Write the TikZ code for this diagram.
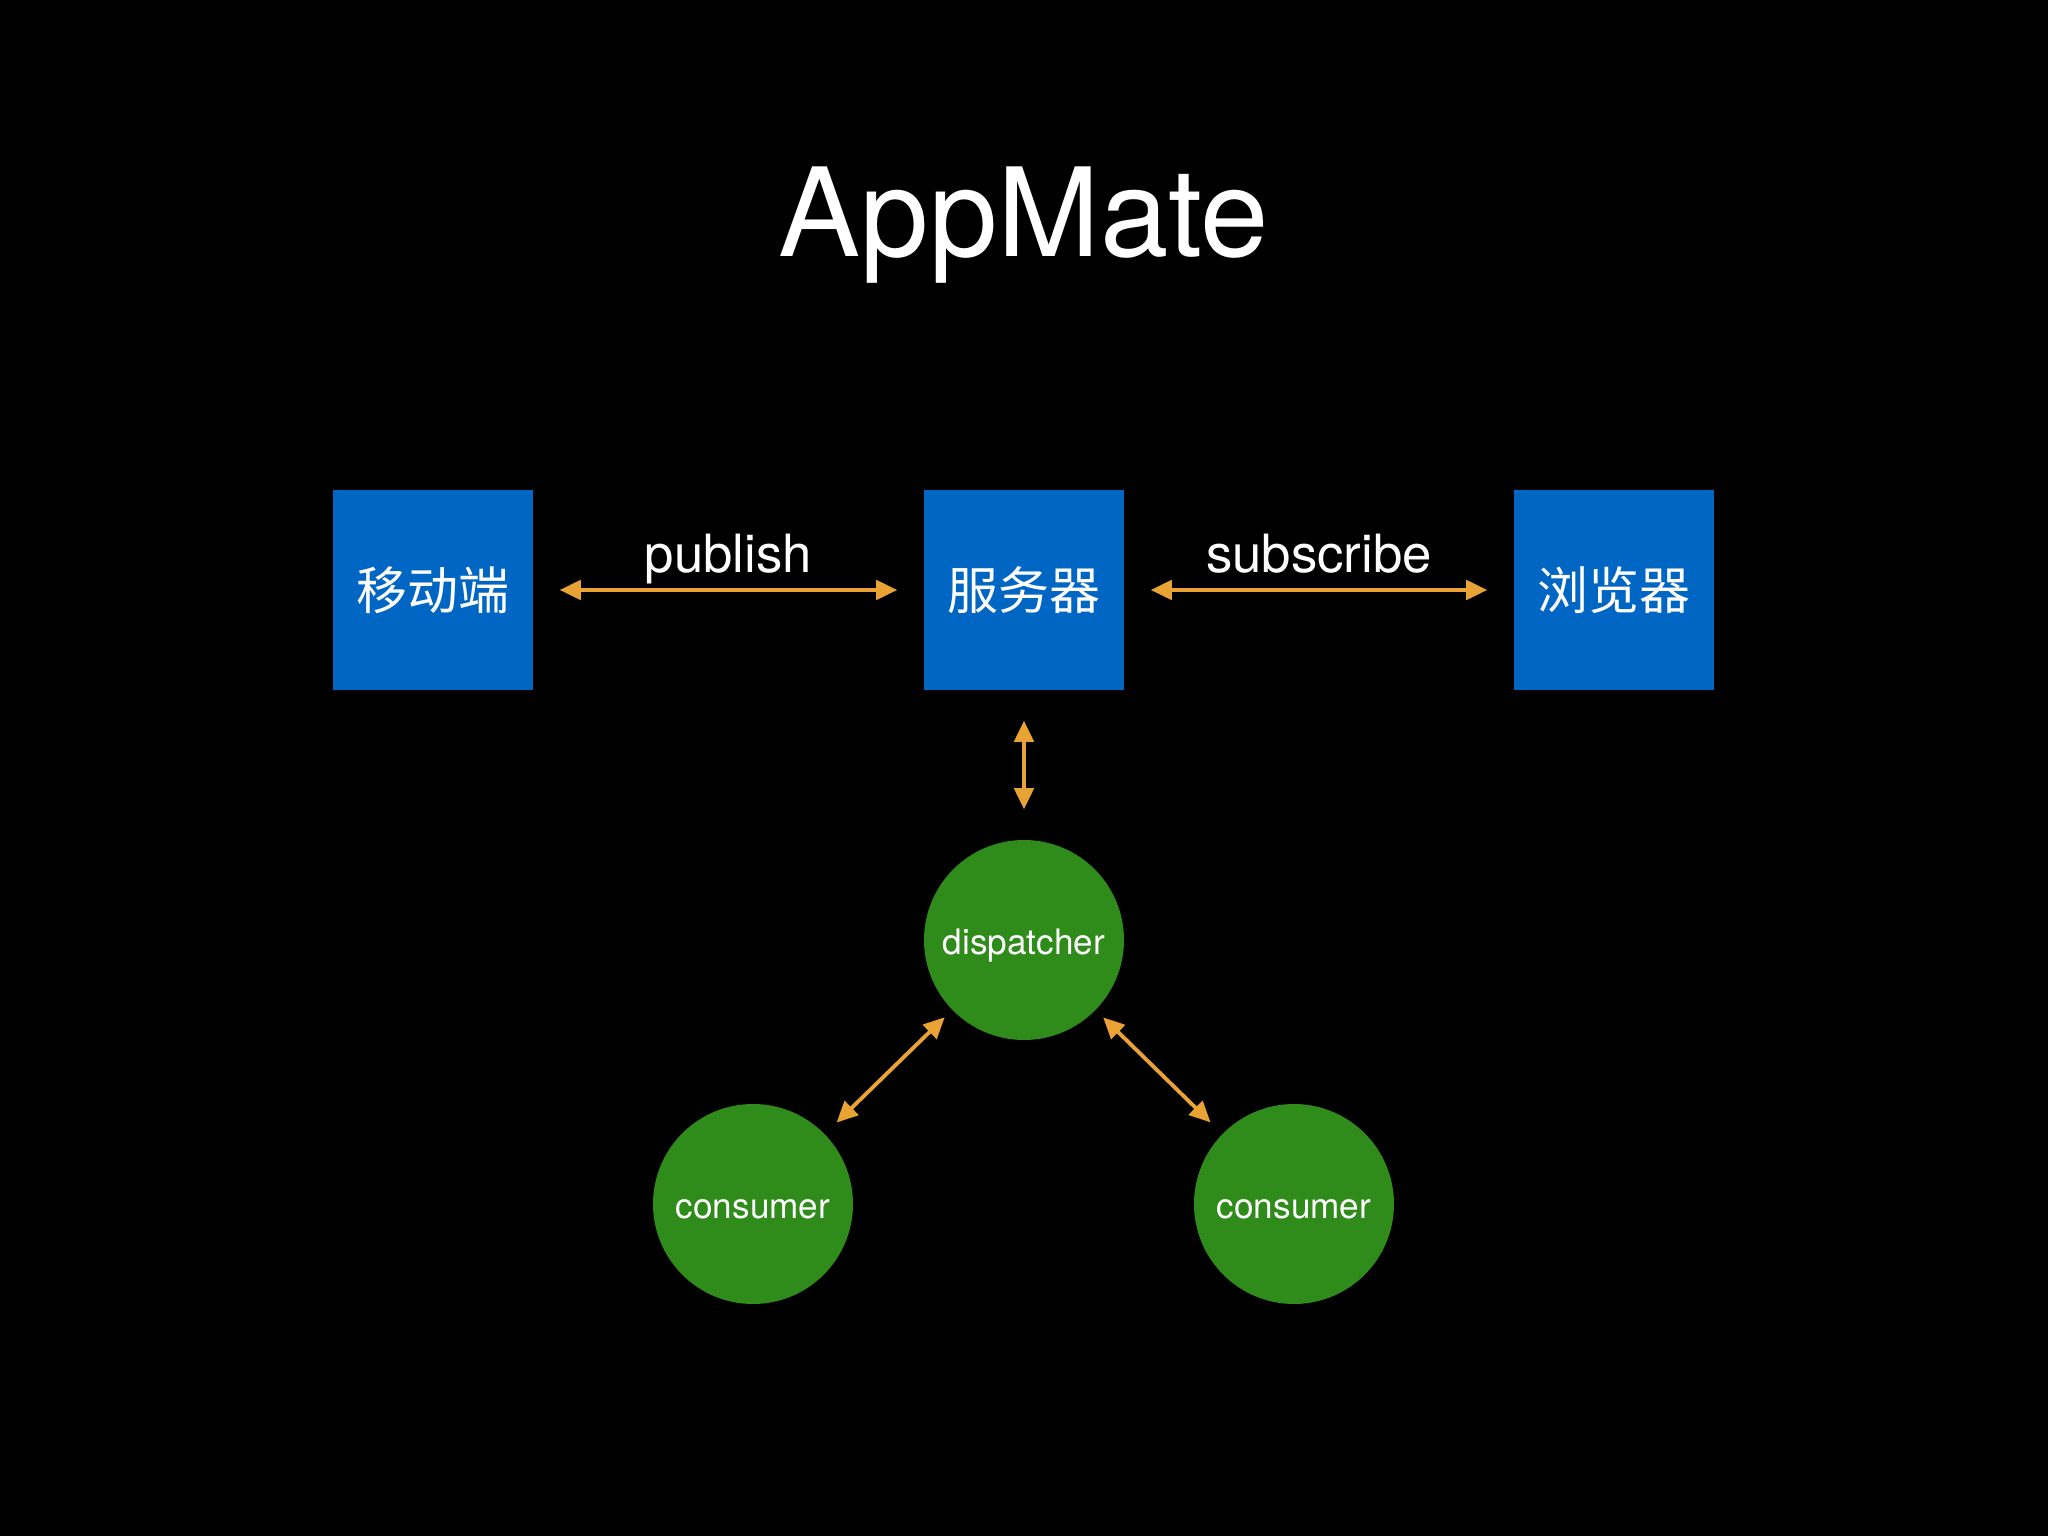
\documentclass[tikz,border=0pt]{standalone}
\usepackage{fontspec}
\setmainfont{TeX Gyre Heros}
\newfontfamily\cjk{Noto Sans CJK SC}
\usetikzlibrary{arrows.meta}
\definecolor{boxblue}{RGB}{0,102,196}
\definecolor{nodegreen}{RGB}{47,139,26}
\definecolor{linkorange}{RGB}{233,162,52}
\tikzset{
	endpoint/.style={rectangle,fill=boxblue,minimum width=2cm,minimum height=2cm,inner sep=0pt,text=white,font=\cjk\fontsize{14.5}{17}\selectfont},
	worker/.style={circle,fill=nodegreen,minimum size=2cm,inner sep=0pt,text=white,text height=8.5pt,text depth=0.5pt,font=\fontsize{10}{12}\selectfont},
	link/.style={{Triangle[length=6pt,width=5.5pt]}-{Triangle[length=6pt,width=5.5pt]},linkorange,line width=1.1pt},
	linklabel/.style={midway,anchor=base,yshift=0.17cm,text=white,font=\fontsize{15}{18}\selectfont}
}
\begin{document}
\begin{tikzpicture}
		\fill[black] (0,0) rectangle (20.48,-15.36);
		\useasboundingbox (0,0) rectangle (20.48,-15.36);
		
		\node[anchor=base,text=white,font=\fontsize{35}{42}\selectfont] (title) at (10.24,-2.57) {AppMate};
		
		\node[endpoint] (mobile) at (4.33,-5.90) {移动端};
		\node[endpoint] (server) at (10.24,-5.90) {服务器};
		\node[endpoint] (browser) at (16.14,-5.90) {浏览器};
		
		\node[worker] (dispatcher) at (10.24,-9.40) {dispatcher};
		\node[worker] (consumerl) at (7.53,-12.04) {consumer};
		\node[worker] (consumerr) at (12.94,-12.04) {consumer};
		
		\draw[link,shorten <=0.26cm,shorten >=0.26cm] (mobile) -- (server) node[linklabel]{publish};
		\draw[link,shorten <=0.26cm,shorten >=0.26cm] (server) -- (browser) node[linklabel]{subscribe};
		\draw[link,shorten <=0.3cm,shorten >=0.3cm] (server) -- (dispatcher);
		\draw[link,shorten <=0.1cm,shorten >=0.16cm] (dispatcher) -- (consumerl);
		\draw[link,shorten <=0.1cm,shorten >=0.16cm] (dispatcher) -- (consumerr);
\end{tikzpicture}
\end{document}
